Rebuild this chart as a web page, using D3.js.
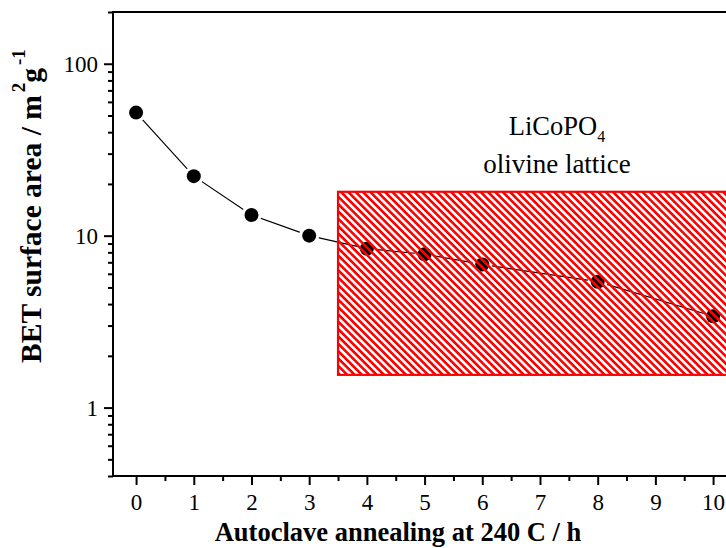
<!DOCTYPE html>
<html><head><meta charset="utf-8">
<script src="https://cdn.jsdelivr.net/npm/d3@7"></script>
<style>body{margin:0;background:#fff}svg{display:block}text{font-family:"Liberation Serif","Times New Roman",serif}</style>
</head><body>
<script>
const hours = [0, 1, 2, 3, 4, 5, 6, 8, 10];
const betArea = [52, 22.2, 13.2, 10, 8.4, 7.8, 6.8, 5.4, 3.4];
const xTickValues = [0,1,2,3,4,5,6,7,8,9,10];
const yMajorTicks = [1, 10, 100];
const boxRange = {x0: 3.5, x1: 10.8, y0: 1.55, y1: 18};
const annotation = ["LiCoPO", "4", "olivine lattice"];

(function(){
const W = 726, H = 548;
const svg = d3.select("body").append("svg").attr("width", W).attr("height", H);
const mLeft = 113, mTop = 12, mBottom = 476;
const x = d3.scaleLinear().domain([-0.4, 10.6]).range([mLeft, mLeft + 11 * 57.7]);
const y = d3.scaleLog().domain([0.4, 200]).range([mBottom, mTop]);

const defs = svg.append("defs");
const pat = defs.append("pattern").attr("id","hatch").attr("patternUnits","userSpaceOnUse")
  .attr("width", 5.2).attr("height", 10).attr("patternTransform","rotate(-45)");
pat.append("rect").attr("x",0).attr("y",0).attr("width",2.6).attr("height",10).attr("fill","#ff0000");

const yMinor = [];
[0.1,1,10,100].forEach(d=>{for(let k=2;k<=9;k++){const v=d*k; if(v>=0.4-1e-9 && v<=200+1e-9) yMinor.push(v);}});
const xMinor = d3.range(0,10.6,0.5).filter(v=>v%1!==0);

const ax = svg.append("g").attr("stroke","#000").attr("stroke-width",2);
ax.append("rect").attr("x",mLeft).attr("y",mTop).attr("width",x.range()[1]-mLeft).attr("height",mBottom-mTop).attr("fill","none");

const yAxisMajor = d3.axisLeft(y).tickValues(yMajorTicks).tickSize(9).tickFormat(d3.format("d")).tickPadding(6);
const yAxisMinor = d3.axisLeft(y).tickValues(yMinor).tickSize(5).tickFormat("");
const gyMin = svg.append("g").attr("transform",`translate(${mLeft},0)`).call(yAxisMinor);
const gy = svg.append("g").attr("transform",`translate(${mLeft},0)`).call(yAxisMajor);
const gxMin = svg.append("g").attr("transform",`translate(0,${mBottom})`).call(d3.axisBottom(x).tickValues(xMinor).tickSize(5).tickFormat(""));
const gx = svg.append("g").attr("transform",`translate(0,${mBottom})`).call(d3.axisBottom(x).tickValues(xTickValues).tickSize(9).tickPadding(9).tickFormat(d3.format("d")));
[gy,gyMin,gx,gxMin].forEach(g=>{
  g.attr("font-family",null);
  g.select(".domain").remove();
  g.selectAll("line").attr("stroke","#000").attr("stroke-width",2);
  g.selectAll("text").attr("font-size",23).attr("fill","#000").attr("font-family","Liberation Serif");
});
gy.selectAll("text").attr("dy","0.34em");

svg.append("path").datum(hours.map((h,i)=>[h,betArea[i]]))
  .attr("fill","none").attr("stroke","#000").attr("stroke-width",1.2)
  .attr("d", d3.line().x(d=>x(d[0])).y(d=>y(d[1])));
svg.append("g").selectAll("circle").data(hours.map((h,i)=>[h,betArea[i]])).join("circle")
  .attr("cx",d=>x(d[0])).attr("cy",d=>y(d[1])).attr("r",7)
  .attr("fill","#000").attr("stroke","#fff").attr("stroke-width",6).attr("paint-order","stroke");

svg.append("rect").attr("x",x(boxRange.x0)).attr("y",y(boxRange.y1))
  .attr("width",x(boxRange.x1)-x(boxRange.x0)).attr("height",y(boxRange.y0)-y(boxRange.y1))
  .attr("fill","url(#hatch)").attr("stroke","#ff0000").attr("stroke-width",2.2);

const t1 = svg.append("text").attr("x",557).attr("y",135).attr("text-anchor","middle").attr("font-size",26.5).attr("fill","#000");
t1.append("tspan").text(annotation[0]);
t1.append("tspan").attr("font-size",16).attr("dy",7).text(annotation[1]);
svg.append("text").attr("x",557).attr("y",173).attr("text-anchor","middle").attr("font-size",27).attr("fill","#000").text(annotation[2]);

svg.append("text").attr("x",398).attr("y",541).attr("text-anchor","middle").attr("font-size",26.5).attr("font-weight","bold").attr("fill","#000")
  .text("Autoclave annealing at 240 C / h");
const yt = svg.append("text").attr("transform","translate(41,206) rotate(-90)").attr("text-anchor","middle")
  .attr("font-size",29.5).attr("font-weight","bold").attr("fill","#000");
yt.append("tspan").text("BET surface area / m");
yt.append("tspan").attr("font-size",19).attr("dx",3).attr("dy",-16).text("2");
yt.append("tspan").attr("dy",16).text("g");
yt.append("tspan").attr("font-size",19).attr("dx",3).attr("dy",-16).text("-1");
})();
</script>
</body></html>
